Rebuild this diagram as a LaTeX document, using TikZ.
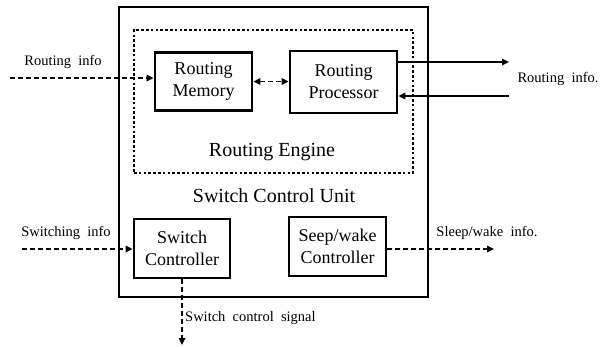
\documentclass[tikz,border=0pt]{standalone}
\usepackage{fontspec}
\setmainfont{Liberation Serif}
\usetikzlibrary{arrows.meta}
\begin{document}
\begin{tikzpicture}[x=1pt,y=-1pt,
  blk/.style={draw,line width=2.8pt,minimum width=#1,inner sep=0pt,align=center,font=\fontsize{18}{22}\selectfont},
  lbl/.style={inner sep=0pt,font=\fontsize{14.5}{16}\selectfont},
  big/.style={inner sep=0pt,font=\fontsize{20}{22}\selectfont},
  tip/.style={-{Triangle[length=7pt,width=6.5pt]}},
  dsh/.style={line width=1.6pt,dash pattern=on 5pt off 3pt},
  sol/.style={line width=1.6pt}]
\useasboundingbox (0,0) rectangle (610,346);
% enclosing unit and routing engine region
\node[draw,line width=2.8pt,minimum width=309pt,minimum height=290pt] (unit) at (273.5,152) {};
\node[draw,line width=2.6pt,dash pattern=on 2.6pt off 2.2pt,minimum width=279pt,minimum height=143pt] (engine) at (273.5,101.5) {};
% blocks
\node[blk=97pt,minimum height=58pt] (mem) at (203.5,81.5) {Routing\\Memory};
\node[blk=107pt,minimum height=62pt] (proc) at (343.5,82) {Routing\\Processor};
\node[blk=96pt,minimum height=59pt] (swc) at (182,248.5) {Switch\\Controller};
\node[blk=97pt,minimum height=59pt] (slp) at (337.5,246.5) {Seep/wake\\Controller};
% titles
\node[big] (tEng) at (272,152) {Routing Engine};
\node[big] (tUnit) at (274,196) {Switch Control Unit};
% outside labels
\node[lbl] (lRin) at (63,62) {Routing\ \ info};
\node[lbl] (lRout) at (558,79) {Routing\ \ info.};
\node[lbl] (lSw) at (66,233) {Switching\ \ info};
\node[lbl] (lSl) at (487,233) {Sleep/wake\ \ info.};
\node[lbl,anchor=west] (lSc) at (185,318) {Switch\ \ control\ \ signal};
% free ends of connectors
\coordinate (rin) at (10,78);
\coordinate (rout) at (509,62);
\coordinate (rback) at (509,96);
\coordinate (swin) at (22,249);
\coordinate (slout) at (494,249);
\coordinate (scout) at (182,345);
% connectors
\draw[dsh,tip] (rin) -- (rin -| mem.west);
\draw[dsh,{Triangle[length=7pt,width=6.5pt]}-{Triangle[length=7pt,width=6.5pt]}] (mem.east) -- (mem.east -| proc.west);
\draw[sol,tip] (rout -| proc.east) -- (rout);
\draw[sol,tip] (rback) -- (rback -| proc.east);
\draw[dsh,tip] (swin) -- (swin -| swc.west);
\draw[dsh,tip] (slout -| slp.east) -- (slout);
\draw[dsh,tip] (swc.south) -- (scout);
\end{tikzpicture}
\end{document}
